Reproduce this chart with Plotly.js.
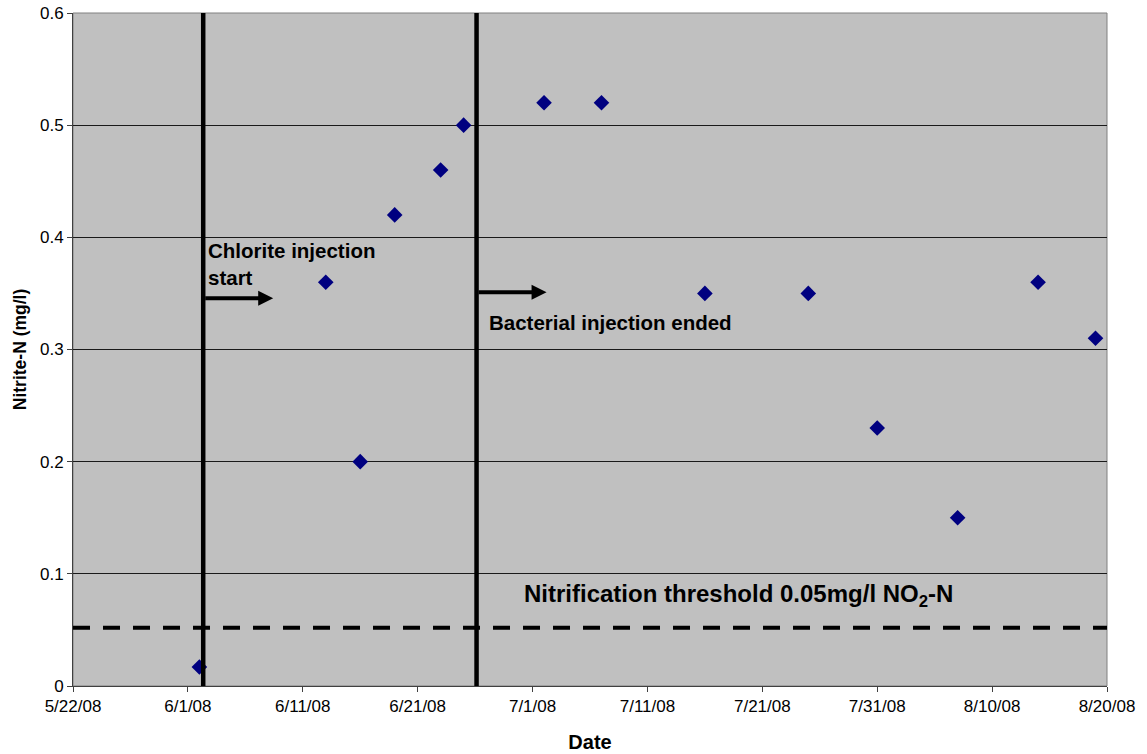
<!DOCTYPE html>
<html>
<head>
<meta charset="utf-8">
<script src="https://cdn.plot.ly/plotly-3.0.1.min.js"></script>
<style>
  html, body { margin: 0; padding: 0; background: #ffffff; }
  #chart { width: 1147px; height: 754px; }
</style>
</head>
<body>
<div id="chart"></div>
<script>
// Nitrite-N sampling results
const sampleDates = [
  '2008-06-02', '2008-06-13', '2008-06-16', '2008-06-19', '2008-06-23',
  '2008-06-25', '2008-07-02', '2008-07-07', '2008-07-16', '2008-07-25',
  '2008-07-31', '2008-08-07', '2008-08-14', '2008-08-19'
];
const nitriteN = [
  0.017, 0.36, 0.20, 0.42, 0.46,
  0.50, 0.52, 0.52, 0.35, 0.35,
  0.23, 0.15, 0.36, 0.31
];

// Event markers and threshold
const chloriteStart = '2008-06-02 08:00';
const bacterialEnd = '2008-06-26 03:00';
const nitrificationThreshold = 0.052;

// Axis settings
const dateRange = ['2008-05-22', '2008-08-20'];
const dateTick0 = '2008-05-22';
const valueRange = [0, 0.6];

const DAY = 86400000;
const FONT = 'Arial, "Liberation Sans", Helvetica, sans-serif';

const trace = {
  type: 'scatter',
  mode: 'markers',
  x: sampleDates,
  y: nitriteN,
  marker: { symbol: 'diamond', size: 12, color: '#000080', line: { width: 0 } },
  hoverinfo: 'x+y',
  showlegend: false
};

// Right-pointing arrow anchored on an event line, sized in pixels
function eventArrow(date, level) {
  return [
    { type: 'line', xref: 'x', yref: 'y', xsizemode: 'pixel', xanchor: date,
      x0: 2, x1: 57, y0: level, y1: level,
      line: { color: '#000000', width: 4 } },
    { type: 'path', xref: 'x', yref: 'y', xsizemode: 'pixel', xanchor: date,
      ysizemode: 'pixel', yanchor: level,
      path: 'M55,-7.5 L70,0 L55,7.5 Z',
      fillcolor: '#000000', line: { color: '#000000', width: 0 } }
  ];
}

const layout = {
  width: 1147,
  height: 754,
  margin: { l: 73, r: 40, t: 13, b: 68, pad: 0 },
  paper_bgcolor: '#ffffff',
  plot_bgcolor: '#c0c0c0',
  font: { family: FONT, color: '#000000', size: 17 },
  xaxis: {
    type: 'date',
    range: dateRange,
    tick0: dateTick0,
    dtick: 10 * DAY,
    tickformat: '%-m/%-d/%y',
    showgrid: false,
    zeroline: false,
    showline: true,
    linecolor: '#404040',
    linewidth: 1,
    ticks: 'outside',
    ticklen: 5,
    tickcolor: '#404040',
    tickfont: { size: 17, family: FONT },
    title: { text: 'Date', font: { size: 20, family: FONT, weight: 'bold' }, standoff: 19 },
    fixedrange: true
  },
  yaxis: {
    range: valueRange,
    dtick: 0.1,
    showgrid: true,
    gridcolor: '#1a1a1a',
    gridwidth: 1,
    zeroline: false,
    showline: true,
    linecolor: '#404040',
    linewidth: 1,
    ticks: 'outside',
    ticklen: 5,
    tickcolor: '#404040',
    tickfont: { size: 17, family: FONT },
    title: { text: 'Nitrite-N (mg/l)', font: { size: 17.5, family: FONT, weight: 'bold' }, standoff: 8 },
    fixedrange: true
  },
  shapes: [
    // plot area border
    { type: 'rect', xref: 'paper', yref: 'paper', x0: 0, x1: 1, y0: 0, y1: 1,
      line: { color: '#808080', width: 1 }, layer: 'below' },
    // threshold line
    { type: 'line', xref: 'paper', yref: 'y', x0: 0, x1: 1,
      y0: nitrificationThreshold, y1: nitrificationThreshold,
      line: { color: '#000000', width: 4, dash: '17px,13px' } },
    // chlorite injection start
    { type: 'line', xref: 'x', yref: 'paper', x0: chloriteStart, x1: chloriteStart, y0: 0, y1: 1,
      line: { color: '#000000', width: 4.5 } },
    // bacterial injection end
    { type: 'line', xref: 'x', yref: 'paper', x0: bacterialEnd, x1: bacterialEnd, y0: 0, y1: 1,
      line: { color: '#000000', width: 4.5 } },
    ...eventArrow(chloriteStart, 0.3456),
    ...eventArrow(bacterialEnd, 0.351)
  ],
  annotations: [
    { xref: 'x', yref: 'y', x: chloriteStart, y: 0.3765, xanchor: 'left', yanchor: 'middle',
      xshift: 3, align: 'left', showarrow: false,
      text: '<b>Chlorite injection</b><br><b>start</b>',
      font: { size: 20.5, family: FONT, color: '#000000' } },
    { xref: 'x', yref: 'y', x: bacterialEnd, y: 0.324, xanchor: 'left', yanchor: 'middle',
      xshift: 10, showarrow: false,
      text: '<b>Bacterial injection ended</b>',
      font: { size: 20.5, family: FONT, color: '#000000' } },
    { xref: 'paper', yref: 'y', x: (738 - 73) / 1034, y: 0.081, xanchor: 'center', yanchor: 'middle',
      showarrow: false,
      text: '<b>Nitrification threshold 0.05mg/l NO<sub>2</sub>-N</b>',
      font: { size: 24, family: FONT, color: '#000000' } }
  ]
};

Plotly.newPlot('chart', [trace], layout, { displayModeBar: false, staticPlot: true });
</script>
</body>
</html>
